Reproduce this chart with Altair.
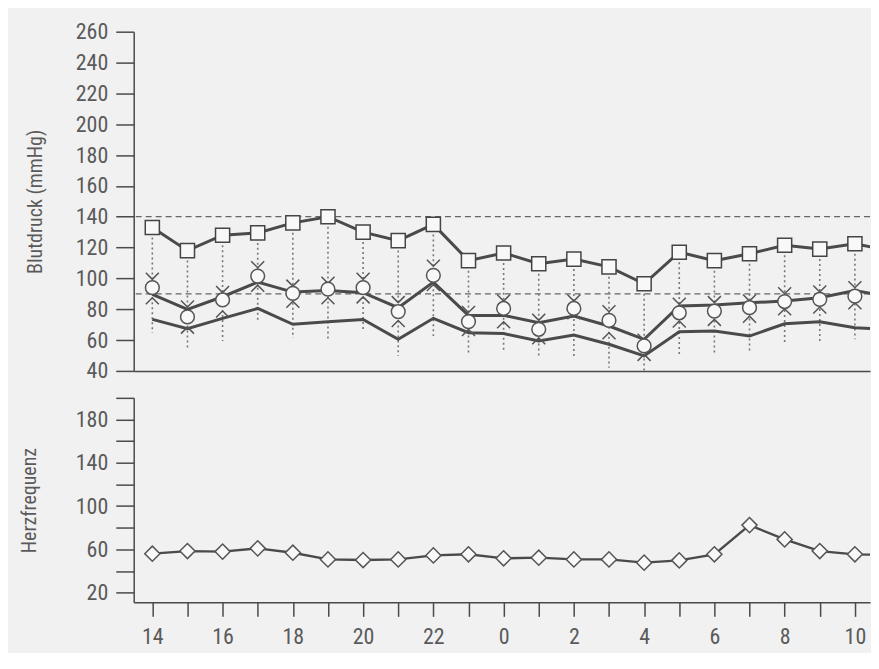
import altair as alt
import pandas as pd

# ---- data ----
hours = list(range(14, 35))            # clock hours 14 .. 34 (= 10 next morning)
systolic = [133, 118, 128, 129.5, 136, 140, 130, 124.5, 135, 111.5, 116.5,
            109.5, 112.5, 107.5, 96.5, 117, 111.5, 116, 121.5, 119, 122.5]
mean_circle = [94, 75, 86, 101.5, 90.3, 93, 94, 78.5, 102, 72, 80.5,
               67, 80.5, 72.8, 56.2, 77.7, 78.8, 81, 85, 86.4, 88.5]
upper_line = [89.6, 79.9, 88.1, 97.6, 91.1, 92.2, 90.7, 81, 97.6, 76, 76,
              71.3, 75.6, 69.1, 60.5, 82.1, 82.7, 84.2, 85.3, 87.4, 92.2]
lower_line = [73.4, 67.4, 74.1, 80.5, 70.2, 71.9, 73.4, 60.5, 74.1, 64.8, 64.2,
              59.4, 63.3, 57.3, 49.7, 65.4, 65.9, 62.6, 70.6, 71.9, 68]
arrow_down = [101.5, 83.6, 92.9, 109, 97.1, 98.9, 101.5, 86.4, 110, 80, 87.4,
              74.9, 87.4, 80.5, 62, 85.3, 86.4, 87.4, 92.2, 93.3, 96.1]
arrow_up = [85.3, 66.3, 76.7, 93.5, 83.1, 85.3, 85.9, 70.6, 93.9, 64.8, 69.8,
            59.4, 75.6, 62.6, 48.6, 70.2, 71.3, 73.4, 78.2, 79.3, 82.1]
dotted_bottom = [64.8, 55.1, 59.4, 71.3, 61.5, 59.4, 67, 49.7, 62.6, 51.9, 52.9,
                 48.6, 49.7, 42.1, 40, 49.7, 50.4, 51.9, 57.3, 59.4, 60.5]
heart_rate = [56, 58.4, 57.9, 60.9, 56.9, 50.7, 50.1, 50.7, 54.4, 55.4, 51.7,
              52.3, 50.7, 50.7, 47.7, 49.8, 55.4, 82.4, 69.2, 58.4, 55.4]

# lines continue past the cut right edge of the page
line_hours = hours + [35]
systolic_line = systolic + [118]
upper_line_ext = upper_line + [88]
lower_line_ext = lower_line + [67]
heart_rate_line = heart_rate + [54.7]

reference_levels = [140, 90]
bp_ticks = list(range(40, 261, 20))
hr_ticks = list(range(20, 201, 20))

# ---- tables ----
pts = pd.DataFrame({"hour": hours, "sys": systolic, "mean": mean_circle,
                    "down": arrow_down, "up": arrow_up, "bottom": dotted_bottom,
                    "hr": heart_rate})
lines = pd.DataFrame({"hour": line_hours, "sys": systolic_line,
                      "upper": upper_line_ext, "lower": lower_line_ext,
                      "hr": heart_rate_line})
refs = pd.DataFrame({"v": reference_levels})

FONT = "Liberation Sans Narrow, Roboto Condensed, Arial Narrow, sans-serif"
INK = "#4a4a4a"
TXT = "#5a5a5a"
PAPER = "#f1f1f1"

xscale = alt.Scale(domain=[13.47, 34.43], nice=False, zero=False)
x_top = alt.X("hour:Q", scale=xscale,
              axis=alt.Axis(labels=False, ticks=False, title=None, grid=False,
                            domainColor=INK, domainWidth=1.5))
y_top_scale = alt.Scale(domain=[40, 260], nice=False, zero=False)
y_top_axis = alt.Axis(values=bp_ticks, tickSize=18, labelPadding=8, grid=False,
                      title="Blutdruck (mmHg)", titleFont=FONT, titleFontSize=20,
                      titleFontWeight="normal", titleColor=TXT, titlePadding=30,
                      labelFont=FONT, labelFontSize=22, labelColor=TXT,
                      domainColor=INK, tickColor=INK, domainWidth=1.5, tickWidth=1.5)

def ytop(field):
    return alt.Y(f"{field}:Q", scale=y_top_scale, axis=y_top_axis)

V_SHAPE = "M -1 -0.5 L 0 0.5 L 1 -0.5"
A_SHAPE = "M -1 0.5 L 0 -0.5 L 1 0.5"

ref_rules = alt.Chart(refs).mark_rule(strokeDash=[6, 4], color="#666",
                                      strokeWidth=1.3).encode(y=ytop("v"))
dotted = alt.Chart(pts).mark_rule(strokeDash=[2, 3], color="#777", strokeWidth=1.6,
                                  clip=True).encode(x=x_top, y=ytop("sys"), y2="bottom:Q")
upper = alt.Chart(lines).mark_line(color=INK, strokeWidth=3, clip=True).encode(
    x=x_top, y=ytop("upper"))
lower = alt.Chart(lines).mark_line(color=INK, strokeWidth=3, clip=True).encode(
    x=x_top, y=ytop("lower"))
sys_line = alt.Chart(lines).mark_line(color=INK, strokeWidth=3, clip=True).encode(
    x=x_top, y=ytop("sys"))
down_marks = alt.Chart(pts).mark_point(shape=V_SHAPE, filled=False, size=170,
                                       color="#555", strokeWidth=1.5, opacity=1,
                                       clip=True).encode(x=x_top, y=ytop("down"))
up_marks = alt.Chart(pts).mark_point(shape=A_SHAPE, filled=False, size=170,
                                     color="#555", strokeWidth=1.5, opacity=1,
                                     clip=True).encode(x=x_top, y=ytop("up"))
circles = alt.Chart(pts).mark_point(shape="circle", filled=True, fill="#f8f8f8",
                                    stroke="#555", strokeWidth=1.5, size=190, opacity=1,
                                    clip=True).encode(x=x_top, y=ytop("mean"))
squares = alt.Chart(pts).mark_point(shape="square", filled=True, fill="#f8f8f8",
                                    stroke="#444", strokeWidth=1.5, size=200, opacity=1,
                                    clip=True).encode(x=x_top, y=ytop("sys"))

top = alt.layer(ref_rules, dotted, upper, lower, sys_line, down_marks, up_marks,
                circles, squares).properties(width=738, height=340)

# ---- bottom panel ----
x_bot = alt.X("hour:Q", scale=xscale,
              axis=alt.Axis(values=hours, tickSize=14, labelPadding=10, grid=False,
                            title=None, labelOverlap=False, labelFlush=False,
                            labelExpr="datum.value % 2 == 0 ? '' + (datum.value % 24) : ''",
                            labelFont=FONT, labelFontSize=22, labelColor=TXT,
                            domainColor=INK, tickColor=INK, domainWidth=1.5,
                            tickWidth=1.5))
y_bot = alt.Y("hr:Q", scale=alt.Scale(domain=[11, 200], nice=False, zero=False),
              axis=alt.Axis(values=hr_ticks, tickSize=18, labelPadding=8, grid=False,
                            labelOverlap=False,
                            labelExpr="datum.value % 40 == 20 ? '' + datum.value : ''",
                            title="Herzfrequenz", titleFont=FONT, titleFontSize=20,
                            titleFontWeight="normal", titleColor=TXT,
                            titlePadding=36, labelFont=FONT, labelFontSize=22,
                            labelColor=TXT, domainColor=INK, tickColor=INK,
                            domainWidth=1.5, tickWidth=1.5))

hr_line = alt.Chart(lines).mark_line(color=INK, strokeWidth=2.4, clip=True).encode(
    x=x_bot, y=y_bot)
hr_marks = alt.Chart(pts).mark_point(shape="diamond", filled=True, fill="#f8f8f8",
                                     stroke="#555", strokeWidth=1.5, size=230, opacity=1,
                                     clip=True).encode(x=x_bot, y=y_bot)
bottom = alt.layer(hr_line, hr_marks).properties(width=738, height=205)

chart = alt.vconcat(top, bottom, spacing=5).properties(
    background=PAPER,
    padding={"left": 11, "top": 12, "right": 0, "bottom": 5},
).configure_view(stroke=None)

chart.save("out.html", embed_options={"renderer": "svg", "actions": False})
